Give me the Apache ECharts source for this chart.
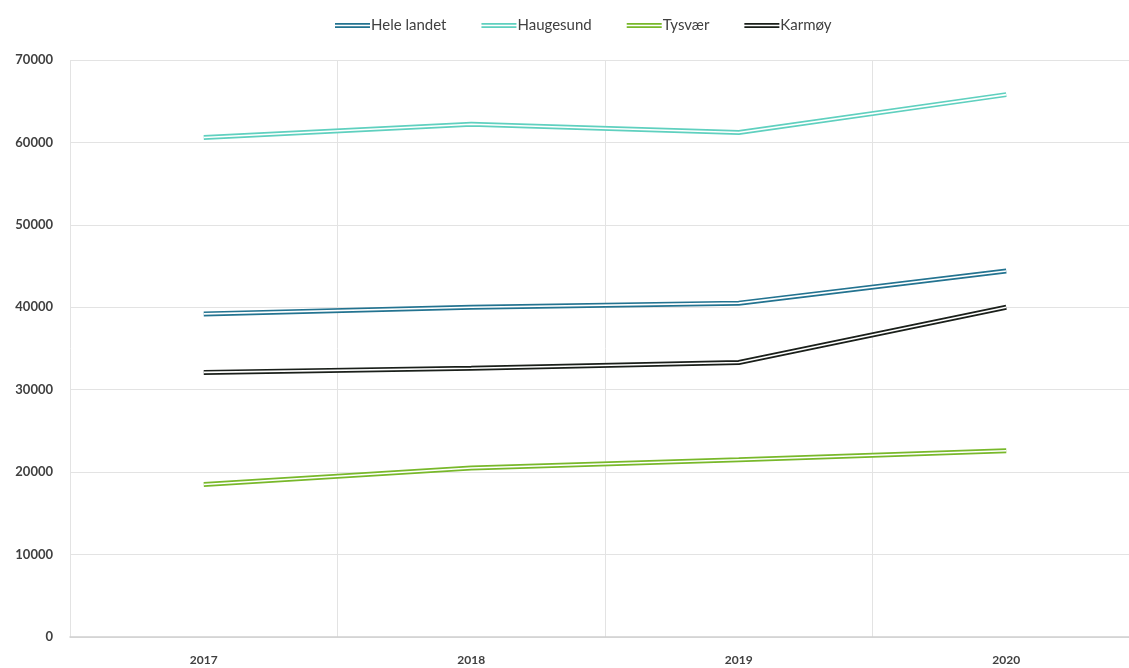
<!DOCTYPE html>
<html>
<head>
<meta charset="utf-8">
<script src="https://cdn.jsdelivr.net/npm/echarts@6/dist/echarts.min.js"></script>
<style>
  html, body { margin: 0; padding: 0; background: #ffffff; }
  #chart { width: 1129px; height: 668px; }
</style>
</head>
<body>
<div id="chart"></div>
<script>
// Years on the x axis
const years = ['2017', '2018', '2019', '2020'];

// Values per area
const heleLandet = [39200, 40000, 40500, 44400];
const haugesund  = [60600, 62200, 61200, 65800];
const tysvaer    = [18500, 20500, 21500, 22600];
const karmoy     = [32100, 32600, 33300, 40000];

const seriesNames  = ['Hele landet', 'Haugesund', 'Tysvær', 'Karmøy'];
const seriesValues = [heleLandet, haugesund, tysvaer, karmoy];
const seriesColors = ['#237390', '#5fd0bf', '#78b82a', '#1a1f1a'];

const font = 'Lato, "Open Sans", sans-serif';
const textColor = '#404040';

// Each area is drawn as a double stroke: a wide coloured line with a thin white line on top.
const series = [];
seriesNames.forEach((name, i) => {
  series.push({
    name: name,
    type: 'line',
    data: seriesValues[i],
    symbol: 'none',
    lineStyle: { width: 5, color: seriesColors[i] },
    itemStyle: { color: seriesColors[i] },
    z: 2 + i * 2
  });
  series.push({
    name: name + ' (inner)',
    type: 'line',
    data: seriesValues[i],
    symbol: 'none',
    lineStyle: { width: 1.6, color: '#ffffff' },
    z: 3 + i * 2,
    silent: true
  });
});

const chart = echarts.init(document.getElementById('chart'), null, { renderer: 'canvas' });
chart.setOption({
  animation: false,
  backgroundColor: '#ffffff',
  legend: {
    data: seriesNames.map(n => ({
      name: n,
      icon: 'path://M0,0H35V1.7H0Z M0,3.3H35V5H0Z'
    })),
    top: 13,
    left: 330,
    itemWidth: 35,
    itemHeight: 5,
    itemGap: 35,
    textStyle: { fontFamily: font, fontSize: 15, color: textColor, padding: [0, 0, 0, -4] }
  },
  grid: { left: 70, top: 60, width: 1070, height: 577, containLabel: false, outerBoundsMode: 'none' },
  xAxis: {
    type: 'category',
    data: years,
    boundaryGap: true,
    axisTick: { show: false },
    axisLine: { show: true, lineStyle: { color: '#d0d0d0', width: 1.5 } },
    axisLabel: { fontFamily: font, fontSize: 12, fontWeight: 'bold', color: textColor, margin: 17 },
    splitLine: { show: true, lineStyle: { color: '#e3e3e3', width: 1 } }
  },
  yAxis: {
    type: 'value',
    min: 0,
    max: 70000,
    interval: 10000,
    axisLine: { show: false },
    axisTick: { show: false },
    axisLabel: {
      fontFamily: font, fontSize: 13, fontWeight: 'bold', color: textColor, margin: 17,
      formatter: v => String(v)
    },
    splitLine: { show: true, lineStyle: { color: '#e3e3e3', width: 1 } }
  },
  series: series
});
</script>
</body>
</html>
